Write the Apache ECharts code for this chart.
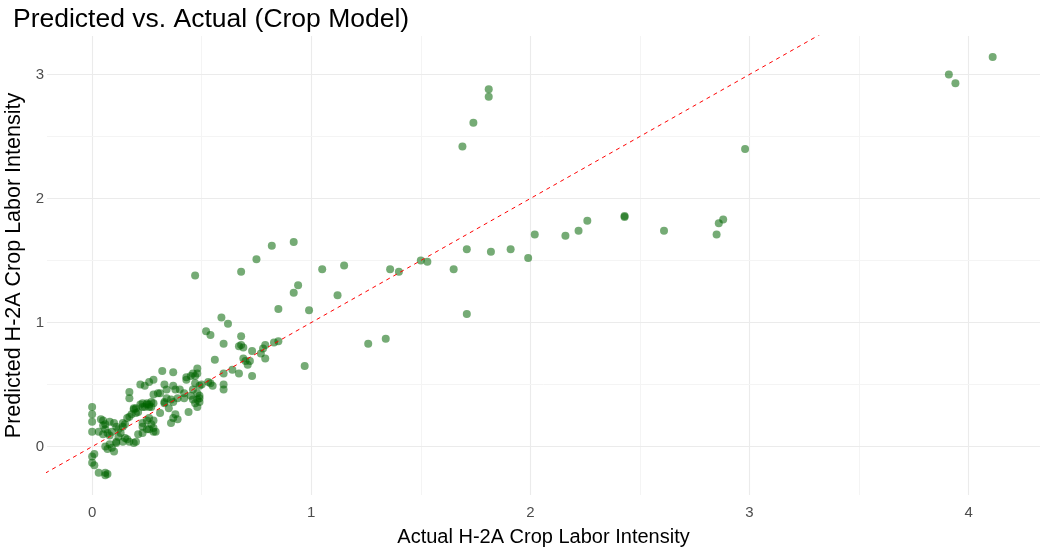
<!DOCTYPE html>
<html>
<head>
<meta charset="utf-8">
<script src="https://cdn.jsdelivr.net/npm/echarts@6/dist/echarts.min.js"></script>
<style>
  html, body { margin: 0; padding: 0; background: #fff; }
  #chart { width: 1041px; height: 550px; }
</style>
</head>
<body>
<div id="chart"></div>
<script>
// actual vs predicted, same order in both arrays (grouped by region of the plot)
const actual = [
  4.11, 3.91, 3.94, 2.98, 1.81, 1.81, 1.74, 1.69,
  2.43, 2.43, 2.88, 2.86, 2.85, 2.61, 2.26, 2.22, 2.16, 2.02, 1.99, 1.91, 1.82, 1.71, 1.65, 1.71,
  1.53, 1.50, 1.40, 1.36, 1.34, 1.26, 1.15, 1.12, 1.05, 0.99, 0.97, 0.94, 0.92, 0.92, 0.82, 0.85, 0.75, 0.68, 0.47,
  0.59, 0.62, 0.52, 0.54, 0.68, 0.60, 0.67, 0.68, 0.69, 0.83, 0.85, 0.73, 0.78, 0.77, 0.79, 0.69, 0.70, 0.71, 0.72, 0.56, 0.64, 0.67, 0.60, 0.73, 0.79,
  0.48, 0.48, 0.47, 0.45, 0.43, 0.54, 0.55, 0.60, 0.60, 0.50, 0.49, 0.48, 0.49, 0.49, 0.47, 0.48, 0.48, 0.44, 0.53,
  0.32, 0.37, 0.22, 0.24, 0.26, 0.28, 0.17, 0.17, 0.28, 0.30, 0.31, 0.33, 0.34, 0.37, 0.38, 0.40, 0.42, 0.43, 0.46, 0.47, 0.46,
  0.34, 0.36, 0.37, 0.33, 0.39, 0.28, 0.26, 0.25, 0.23, 0.20, 0.19, 0.42, 0.45, 0.46, 0.49, 0.38, 0.37, 0.39, 0.36, 0.31,
  0.28, 0.29, 0.33, 0.35,
  0.00, 0.00, 0.00, 0.00, 0.05, 0.06, 0.03, 0.05, 0.07, 0.09, 0.06, 0.07, 0.10, 0.09, 0.01, 0.00, 0.00, 0.01, 0.03, 0.06, 0.07, 0.06,
  0.11, 0.11, 0.14, 0.16, 0.17, 0.19, 0.20, 0.21, 0.23, 0.26, 0.28,
  0.10, 0.11, 0.12, 0.14, 0.14, 0.15, 0.16, 0.17, 0.18, 0.19, 0.20, 0.21, 0.22, 0.23, 0.24, 0.25, 0.26, 0.27, 0.27,
  0.23, 0.23, 0.25, 0.25, 0.26, 0.28, 0.27, 0.08, 0.08, 0.04, 0.08, 0.06, 0.05, 0.13, 0.15, 0.12
];
const predicted = [
  3.14, 3.00, 2.93, 2.40, 2.88, 2.82, 2.61, 2.42,
  1.86, 1.85, 1.83, 1.80, 1.71, 1.74, 1.82, 1.74, 1.70, 1.71, 1.52, 1.59, 1.57, 1.59, 1.43, 1.07,
  1.49, 1.50, 1.41, 1.43, 0.87, 0.83, 1.46, 1.22, 1.43, 1.10, 0.65, 1.30, 1.24, 1.65, 1.62, 1.11, 1.51, 1.41, 1.38,
  1.04, 0.99, 0.93, 0.90, 0.89, 0.83, 0.81, 0.82, 0.80, 0.84, 0.85, 0.77, 0.79, 0.75, 0.71, 0.71, 0.69, 0.66, 0.69, 0.70, 0.62, 0.59, 0.59, 0.57, 0.82,
  0.63, 0.59, 0.57, 0.57, 0.56, 0.51, 0.49, 0.50, 0.46, 0.50, 0.49, 0.43, 0.39, 0.36, 0.35, 0.32, 0.38, 0.28, 0.52,
  0.61, 0.60, 0.50, 0.49, 0.52, 0.54, 0.44, 0.39, 0.42, 0.43, 0.43, 0.50, 0.46, 0.49, 0.46, 0.46, 0.43, 0.54, 0.59, 0.51, 0.46,
  0.39, 0.38, 0.36, 0.35, 0.39, 0.35, 0.32, 0.34, 0.32, 0.31, 0.31, 0.39, 0.41, 0.38, 0.41, 0.26, 0.23, 0.22, 0.19, 0.27,
  0.15, 0.12, 0.36, 0.31,
  0.32, 0.26, 0.20, 0.12, 0.21, 0.18, 0.12, 0.10, 0.11, 0.12, 0.00, -0.02, -0.04, -0.01, -0.06, -0.13, -0.08, -0.15, -0.21, -0.21, -0.22, -0.23,
  0.03, 0.04, 0.04, 0.06, 0.04, 0.03, 0.04, 0.10, 0.11, 0.14, 0.12,
  0.19, 0.16, 0.14, 0.16, 0.19, 0.18, 0.23, 0.24, 0.26, 0.30, 0.27, 0.28, 0.34, 0.35, 0.32, 0.35, 0.34, 0.32, 0.36,
  0.19, 0.16, 0.14, 0.21, 0.23, 0.21, 0.18, 0.09, 0.02, 0.22, 0.20, 0.14, 0.17, 0.11, 0.07, 0.08
];

// tick / grid values
const xTicks = [0, 1, 2, 3, 4];
const xMinor = [0.5, 1.5, 2.5, 3.5];
const yTicks = [0, 1, 2, 3];
const yMinor = [0.5, 1.5, 2.5];
// y = x reference line ends (clipped to the panel)
const refLine = [-0.5, 4.5];

const xRange = [-0.206, 4.326];
const yRange = [-0.39, 3.31];

const chart = echarts.init(document.getElementById("chart"));

const points = actual.map((x, i) => [x, predicted[i]]);

const majorStyle = { color: "#ebebeb", width: 1.1, type: "solid" };
const minorStyle = { color: "#f4f4f4", width: 1, type: "solid" };
const gridLines = [
  ...xTicks.map((v) => ({ xAxis: v, lineStyle: majorStyle })),
  ...xMinor.map((v) => ({ xAxis: v, lineStyle: minorStyle })),
  ...yTicks.map((v) => ({ yAxis: v, lineStyle: majorStyle })),
  ...yMinor.map((v) => ({ yAxis: v, lineStyle: minorStyle })),
];

const fontFamily = "'Liberation Sans', Arial, sans-serif";

const option = {
  animation: false,
  backgroundColor: "#ffffff",
  title: {
    text: "Predicted vs. Actual (Crop Model)",
    left: 8,
    top: 1,
    textStyle: { fontFamily, fontSize: 26.5, fontWeight: "normal", color: "#000" },
  },
  grid: { left: 47, right: 1, top: 36, bottom: 55, outerBoundsMode: "none", containLabel: false },
  xAxis: {
    type: "value",
    min: xRange[0],
    max: xRange[1],
    name: "Actual H-2A Crop Labor Intensity",
    nameLocation: "middle",
    nameGap: 32,
    nameTextStyle: { fontFamily, fontSize: 20, color: "#000" },
    axisLine: { show: false },
    axisTick: { show: false },
    splitLine: { show: false },
    axisLabel: {
      customValues: xTicks,
      color: "#4d4d4d",
      fontFamily,
      fontSize: 15,
      margin: 10,
    },
  },
  yAxis: {
    type: "value",
    min: yRange[0],
    max: yRange[1],
    name: "Predicted H-2A Crop Labor Intensity",
    nameLocation: "middle",
    nameGap: 21,
    nameTextStyle: { fontFamily, fontSize: 21.5, color: "#000" },
    axisLine: { show: false },
    axisTick: { show: false },
    splitLine: { show: false },
    axisLabel: {
      customValues: yTicks,
      color: "#4d4d4d",
      fontFamily,
      fontSize: 15,
      margin: 3,
    },
  },
  series: [
    {
      type: "scatter",
      data: [],
      z: 0,
      silent: true,
      markLine: {
        silent: true,
        z: 0,
        symbol: ["none", "none"],
        label: { show: false },
        emphasis: { disabled: true },
        animation: false,
        data: gridLines,
      },
    },
    {
      name: "points",
      type: "scatter",
      z: 2,
      data: points,
      symbol: "circle",
      symbolSize: 8,
      itemStyle: { color: "rgba(0, 100, 0, 0.68)" },
    },
    {
      name: "y = x",
      type: "line",
      z: 3,
      clip: true,
      data: refLine.map((v) => [v, v]),
      symbol: "none",
      lineStyle: { color: "#ff0000", width: 1, type: [4, 4] },
    },
  ],
};

chart.setOption(option);
</script>
</body>
</html>
